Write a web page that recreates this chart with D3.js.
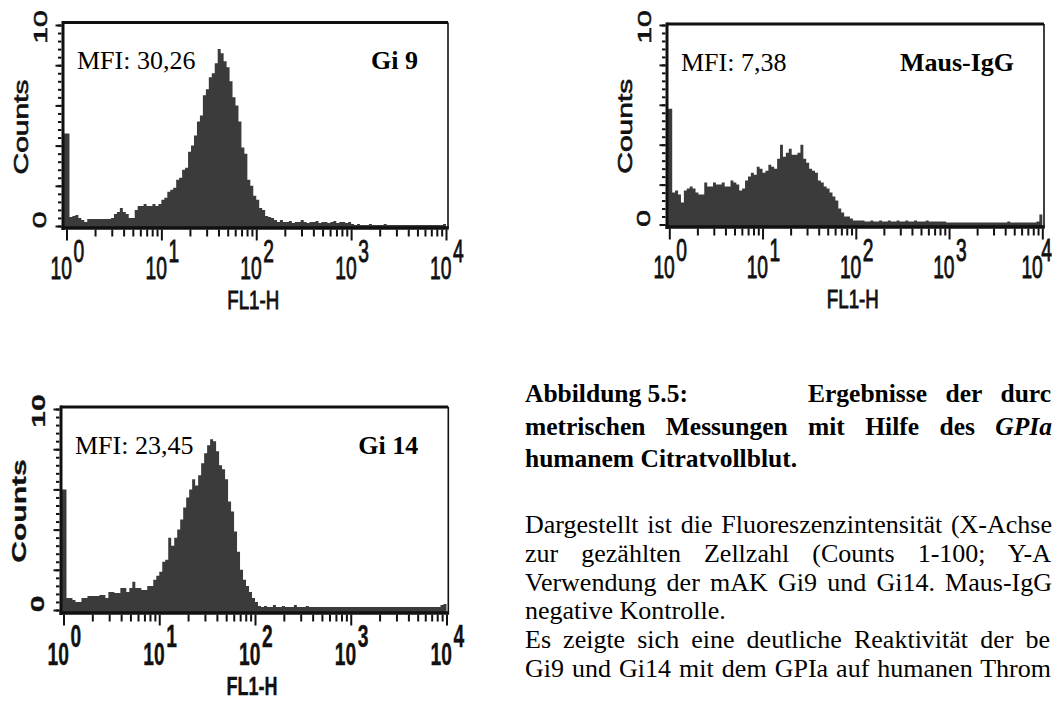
<!DOCTYPE html>
<html><head><meta charset="utf-8">
<script src="https://cdn.jsdelivr.net/npm/d3@7"></script>
<style>html,body{margin:0;padding:0;background:#fff}svg{display:block}</style>
</head><body>
<svg id="c" width="1052" height="702"></svg>
<script>
// ---------- data ----------
const binsPerDecade = 32;
const xTickExponents = ["0", "1", "2", "3", "4"];
const yTickLabels = ["0", "10"];
const panelNames = ["Gi 9", "Maus-IgG", "Gi 14"];
const mfiLabels = ["MFI: 30,26", "MFI: 7,38", "MFI: 23,45"];
const xTitle = "FL1-H";
const yTitle = "Counts";

const gi9 = [46,4.5,5,5.5,4,3,2,3.5,3.5,3.5,
  3.5,3.5,3.5,3.5,3.5,4,6,7,9,7,
  6,4,4,8,10,10,11,10,10,11,
  10,11,13,14,17,18,19,23,24,28,
  29,37,40,45,52,55,65,68,74,76,
  81,88,86,82,79,72,64,60,52,39,
  36,23,20,15,13,9,8,5,4.5,4,
  3,2,3,2,2,2.5,1.5,2,2,3,
  2,1.5,2,2,2.5,1.5,2,2,1.5,2,
  2.5,1.5,2,2,1.5,2,1,0.5,1,0.5,
  0.5,0.5,1,0.5,0.5,0.5,0.5,1,0.5,0.5,
  0.5,0.5,0.5,0.5,0.5,0.5,0.5,0.5,0.5,0.5,
  0.5,0.5,0.5,0.5,0.5,0.5,0.5,1];

const mausIgG = [58,16,17,15,11,17,18,19,18,16,
  15,15,21,19,19,21,20,20,21,19,
  19,22,21,20,17,18,22,24,26,25,
  29,28,26,27,30,29,28,33,40,34,
  36,38,35,35,36,40,33,31,28,27,
  26,22,21,19,18,16,14,12,8,6,
  4,4,3,2,2,2,2,1.5,1.5,2,
  1.5,1.5,2,1.5,1.5,2,1.5,1.5,2,1.5,
  1.5,2,1.5,1.5,2,1.5,1.5,1.5,2,1.5,
  1.5,1.5,1.5,1.5,1.5,1,1,1,1,1,
  1,1,1,1,1,1,1,1,1,1,
  1,1,1,1,1,1,1.5,1,1,1,
  1,1,1,1,1,1,1.5,5];

const gi14 = [60,6,6,5,4,4,6,6,7,7,
  7,7,7.5,7.5,6,9,9,8.5,8.5,11,
  11,9,11,14,11,11,10,10,12,12,
  15,17,19,24,25,36,32,36,40,45,
  51,56,60,65,62,67,73,78,82,85,
  84,79,72,70,65,54,49,39,29,20,
  15,12,9,6,4,2,1.5,2,1.5,1.5,
  2.5,1.5,1.5,2,1.5,1.5,1.5,2.5,1.5,1.5,
  1.5,2,1.5,1.5,1.5,1.5,1.5,1.5,1.5,1.5,
  1.5,1.5,1.5,1.5,1.5,1.5,1.5,1.5,1.5,1.5,
  1.5,1.5,1.5,1.5,1.5,1.5,1.5,1.5,1.5,1.5,
  1.5,1.5,1.5,1.5,1.5,1.5,1.5,1.5,1.5,1.5,
  1.5,1.5,1.5,1.5,1.5,1.5,2.5,3];

const seriesList = [gi9, mausIgG, gi14];

const captionBold = [
  {t: "Abbildung 5.5:"},
  {t: "Ergebnisse der durc"},
  {t: "metrischen Messungen mit Hilfe des ", it: "GPIa"},
  {t: "humanem Citratvollblut."}
];
const captionBody = [
  "Dargestellt ist die Fluoreszenzintensität (X-Achse",
  "zur gezählten Zellzahl (Counts 1-100; Y-A",
  "Verwendung der mAK Gi9 und Gi14. Maus-IgG",
  "negative Kontrolle.",
  "Es zeigte sich eine deutliche Reaktivität der be",
  "Gi9 und Gi14 mit dem GPIa auf humanen Throm"
];

// ---------- layout ----------
const layout = [
  {xr:[66.5,446], yr:[226,25], f:{l:63,r:448,t:22.5,b:228}, bold:false, baseOff:51, supOff:34, titleOff:81, titleSize:26},
  {xr:[669.3,1042.3], yr:[224.5,25], f:{l:667,r:1044,t:24,b:227}, bold:false, baseOff:51, supOff:34, titleOff:81, titleSize:26},
  {xr:[63.5,446.5], yr:[610,409], f:{l:61,r:448.3,t:407,b:613}, bold:true, baseOff:52, supOff:34, titleOff:82, titleSize:25}
];

const svg = d3.select("#c");
const INK = "#111";
const SANS = "'Liberation Sans', Arial, sans-serif";
const SERIF = "'Liberation Serif', 'Times New Roman', serif";
const SX = 0.62;

function sansText(g, x, y, str, opts) {
  const grp = g.append("g").attr("transform",
    `translate(${x},${y}) scale(${opts.sx || SX},1)` + (opts.rot ? " rotate(-90)" : ""));
  const t = grp.append("text").text(str)
    .attr("font-family", SANS).attr("font-size", opts.size || 30)
    .attr("font-weight", opts.bold ? "bold" : "normal")
    .attr("text-anchor", opts.anchor || "middle").attr("fill", INK)
    .attr("stroke", INK).attr("stroke-width", opts.bold ? 0.4 : 0.9);
  if (opts.rot) t.attr("dy", "0.36em");
  return t;
}

layout.forEach((L, pi) => {
  const data = seriesList[pi];
  const g = svg.append("g");
  const x = d3.scaleLog().domain([1, 1e4]).range(L.xr);
  const y = d3.scaleLinear().domain([0, 100]).range(L.yr);
  const f = L.f;

  // histogram (step area)
  const pts = data.map((v, i) => ({lo: Math.pow(10, i / binsPerDecade), v}));
  pts.push({lo: 1e4, v: data[data.length - 1]});
  const area = d3.area().x((d, i) => i === 0 ? f.l : x(d.lo)).y0(f.b).y1(d => y(d.v))
    .curve(d3.curveStepAfter);
  g.append("path").datum(pts).attr("d", area).attr("fill", "#3b3b3b");

  // frame
  g.append("line").attr("x1", f.l).attr("x2", f.r).attr("y1", f.t).attr("y2", f.t)
    .attr("stroke", INK).attr("stroke-width", 3);
  g.append("line").attr("x1", f.r).attr("x2", f.r).attr("y1", f.t).attr("y2", f.b)
    .attr("stroke", INK).attr("stroke-width", 1.6);
  g.append("line").attr("x1", f.l).attr("x2", f.l).attr("y1", f.t - 1.5).attr("y2", f.b + 2)
    .attr("stroke", INK).attr("stroke-width", 3);
  g.append("line").attr("x1", f.l - 1.5).attr("x2", f.r + 0.8).attr("y1", f.b).attr("y2", f.b)
    .attr("stroke", INK).attr("stroke-width", 3.5);

  // x axis ticks
  const majors = xTickExponents.map(e => Math.pow(10, +e));
  const minors = [];
  for (let d = 0; d < 4; d++) for (let m = 2; m <= 9; m++) minors.push(m * Math.pow(10, d));
  const axM = g.append("g").attr("transform", `translate(0,${f.b + 1.5})`)
    .call(d3.axisBottom(x).tickValues(majors).tickSize(11).tickFormat(""));
  const axm = g.append("g").attr("transform", `translate(0,${f.b + 1.5})`)
    .call(d3.axisBottom(x).tickValues(minors).tickSize(7).tickFormat(""));
  [axM, axm].forEach(a => {
    a.select(".domain").remove();
    a.selectAll("line").attr("stroke", INK).attr("stroke-width", 2);
  });

  // y axis ticks
  const ayM = g.append("g").attr("transform", `translate(${f.l - 1.5},0)`)
    .call(d3.axisLeft(y).tickValues(d3.range(0, 101, 20)).tickSize(6).tickFormat(""));
  const aym = g.append("g").attr("transform", `translate(${f.l - 1.5},0)`)
    .call(d3.axisLeft(y).tickValues(d3.range(0, 101, 4)).tickSize(3.5).tickFormat(""));
  [ayM, aym].forEach(a => {
    a.select(".domain").remove();
    a.selectAll("line").attr("stroke", INK).attr("stroke-width", 2);
  });

  // x tick labels 10^n
  xTickExponents.forEach(e => {
    let tx = x(Math.pow(10, +e));
    let supGap = 7;
    if (tx + 18 > 1051) { tx -= 5; supGap = 4; }
    sansText(g, tx + 5.5, f.b + L.baseOff, "10", {anchor: "end", bold: L.bold, size: 31});
    sansText(g, tx + supGap, f.b + L.supOff, e, {anchor: "start", bold: L.bold, size: 31});
  });

  // y tick labels
  sansText(g, f.l - 23.5, y(0) - 6, yTickLabels[0], {rot: true, bold: L.bold, sx: 0.62});
  sansText(g, f.l - 22.5, y(100) + 2, yTickLabels[1], {rot: true, bold: L.bold, sx: 0.62});

  // axis titles
  sansText(g, x(100) - 3, f.b + L.titleOff, xTitle, {size: L.titleSize, sx: 0.72, bold: L.bold});
  sansText(g, f.l - 43, (y(0) + y(100)) / 2 + 1.5, yTitle, {rot: true, sx: 0.7, bold: L.bold});

  // in-plot labels
  g.append("text").attr("x", f.l + 14).attr("y", f.t + 46.5).text(mfiLabels[pi])
    .attr("font-family", SERIF).attr("font-size", 26).attr("fill", "#000");
  g.append("text").attr("x", f.r - 30).attr("y", f.t + 46.5).text(panelNames[pi])
    .attr("font-family", SERIF).attr("font-size", 26).attr("font-weight", "bold")
    .attr("text-anchor", "end").attr("fill", "#000");
});

// ---------- caption ----------
function justify(t, x0, x1) {
  const len = t.node().getComputedTextLength();
  const str = t.text();
  const n = (str.match(/ /g) || []).length;
  if (n > 0) t.attr("word-spacing", Math.max(-2, (x1 - x0 - len) / n));
}
const cap = svg.append("g").attr("fill", "#000").attr("font-family", SERIF);
const boldPos = [{x:525,y:402},{x:808,y:402,end:1051},{x:525,y:435,end:1052},{x:525,y:467}];
captionBold.forEach((c, i) => {
  const p = boldPos[i];
  const t = cap.append("text").attr("x", p.x).attr("y", p.y)
    .attr("font-size", 25.5).attr("font-weight", "bold");
  t.append("tspan").text(c.t);
  if (c.it) t.append("tspan").attr("font-style", "italic").text(c.it);
  if (p.end) justify(t, p.x, p.end);
});
const bodyEnds = [1052, 1051, 1052, null, 1050, 1051];
captionBody.forEach((s, i) => {
  const t = cap.append("text").attr("x", 525).attr("y", 533 + i * 28.8)
    .attr("font-size", 26).text(s);
  if (bodyEnds[i]) justify(t, 525, bodyEnds[i]);
});
</script>
</body></html>
